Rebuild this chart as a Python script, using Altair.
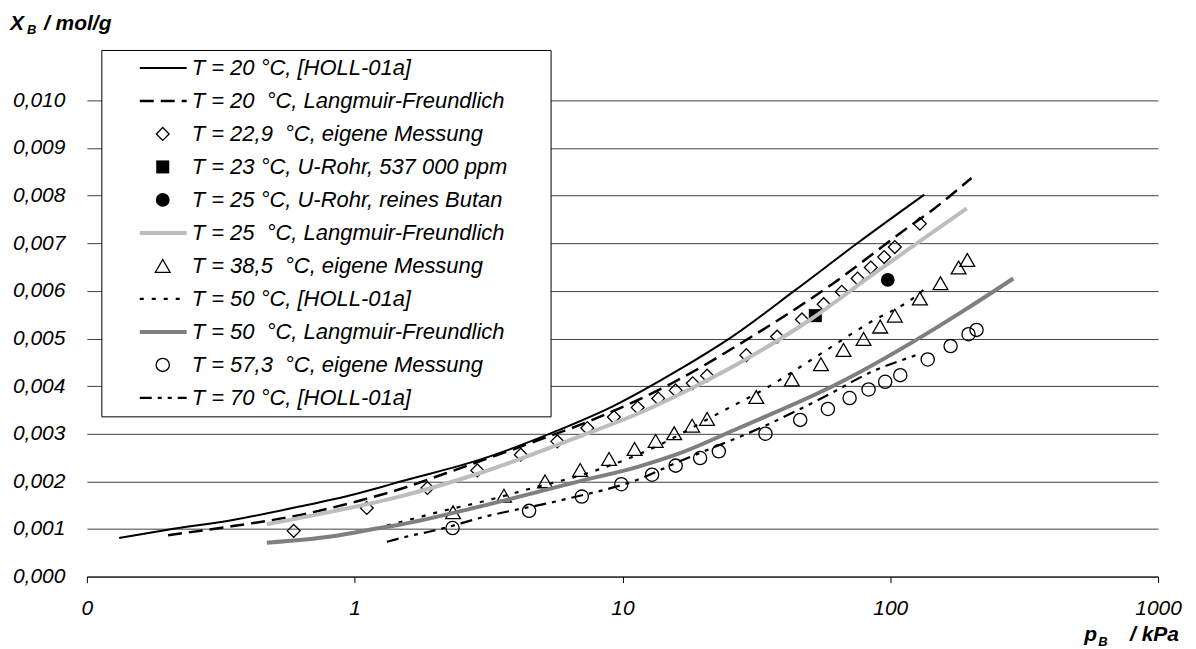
import altair as alt
import pandas as pd

# ---------------- data: p_B in kPa, X_B in mol/g ----------------
holl20_p = [0.132, 0.198, 0.351, 0.622, 1.0, 1.24, 1.47, 2.92, 5.8, 9.16, 16.2, 25.7, 44.3, 76.2, 134]
holl20_x = [0.00081, 0.00098, 0.00119, 0.00147, 0.00173, 0.00187, 0.00199, 0.00245, 0.00308, 0.00357,
            0.00434, 0.00504, 0.00602, 0.00702, 0.00802]

lf20_p = [0.201, 0.351, 0.622, 1.10, 1.39, 2.19, 4.36, 7.72, 15.3, 29.6, 58.9, 117, 143, 201]
lf20_x = [0.00087, 0.00106, 0.00129, 0.00163, 0.00179, 0.00217, 0.00277, 0.00329, 0.00406, 0.00500,
          0.00609, 0.00734, 0.00769, 0.00837]

m229_p = [0.592, 1.11, 1.87, 2.87, 4.17, 5.71, 7.39, 9.29, 11.4, 13.6, 15.8, 18.3, 20.7, 29.0, 37.8,
          46.8, 56.4, 65.9, 75.5, 84.6, 94.9, 104, 129]
m229_x = [0.00096, 0.00144, 0.00186, 0.00223, 0.00256, 0.00284, 0.00312, 0.00335, 0.00355, 0.00374,
          0.00391, 0.00406, 0.00422, 0.00465, 0.00504, 0.00540, 0.00572, 0.00598, 0.00626, 0.00649,
          0.00671, 0.00692, 0.00741]

u23_p = [52.5]
u23_x = [0.00548]
u25_p = [97.9]
u25_x = [0.00623]

lf25_p = [0.47, 0.828, 1.24, 1.47, 2.92, 6.88, 11.5, 16.2, 27.2, 51, 85.3, 151, 193]
lf25_x = [0.00110, 0.00137, 0.00158, 0.00168, 0.00217, 0.00294, 0.00343, 0.00382, 0.00448, 0.00542,
          0.00633, 0.00731, 0.00773]

m385_p = [2.33, 3.61, 5.14, 6.95, 8.91, 11.1, 13.3, 15.6, 18.2, 20.7, 31.6, 42.9, 55.1, 66.9, 79.5,
          91.7, 104, 129, 154, 180, 194]
m385_x = [0.00135, 0.00170, 0.00200, 0.00224, 0.00247, 0.00268, 0.00285, 0.00301, 0.00317, 0.00331,
          0.00377, 0.00414, 0.00446, 0.00476, 0.00499, 0.00525, 0.00548, 0.00584, 0.00616, 0.00649,
          0.00665]

holl50_p = [1.32, 1.80, 2.07, 3.18, 4.48, 7.39, 12.2, 23.6, 35.2, 51, 83, 124, 133]
holl50_x = [0.00107, 0.00127, 0.00136, 0.00161, 0.00184, 0.00217, 0.00263, 0.00347, 0.00399, 0.00456,
            0.00532, 0.00588, 0.00602]

lf50_p = [0.47, 0.828, 1.24, 1.47, 2.92, 6.88, 11.5, 16.2, 27.2, 64.1, 151, 190, 288]
lf50_x = [0.00071, 0.000845, 0.00102, 0.00109, 0.00147, 0.00200, 0.00231, 0.00258, 0.00312, 0.00406,
          0.00525, 0.00560, 0.00626]

m573_p = [2.32, 4.48, 7.05, 9.9, 12.9, 15.8, 19.5, 22.9, 34.2, 46.1, 58.5, 70.5, 83, 95.7, 109, 138,
          168, 196, 210]
m573_x = [0.00102, 0.00138, 0.00168, 0.00194, 0.00214, 0.00233, 0.00249, 0.00263, 0.00300, 0.00329,
          0.00352, 0.00375, 0.00393, 0.00409, 0.00423, 0.00456, 0.00484, 0.00509, 0.00518]

holl70_p = [1.32, 1.65, 1.86, 3.18, 5.96, 12.2, 15.3, 34.2, 57, 85.3, 125]
holl70_x = [0.00073, 0.00087, 0.00093, 0.00128, 0.00161, 0.00210, 0.00235, 0.00317, 0.00378, 0.00430,
            0.00465]

legend_labels = [
    "T = 20 °C, [HOLL-01a]",
    "T = 20 \u00a0°C, Langmuir-Freundlich",
    "T = 22,9 \u00a0°C, eigene Messung",
    "T = 23 °C, U-Rohr, 537 000 ppm",
    "T = 25 °C, U-Rohr, reines Butan",
    "T = 25 \u00a0°C, Langmuir-Freundlich",
    "T = 38,5 \u00a0°C, eigene Messung",
    "T = 50 °C, [HOLL-01a]",
    "T = 50 \u00a0°C, Langmuir-Freundlich",
    "T = 57,3 \u00a0°C, eigene Messung",
    "T = 70 °C, [HOLL-01a]",
]

x_ticks = [0.1, 1, 10, 100, 1000]
y_ticks = [0, 0.001, 0.002, 0.003, 0.004, 0.005, 0.006, 0.007, 0.008, 0.009, 0.010]

# ---------------- styling ----------------
FONT = "Liberation Sans"
TICK_FS = 21
LEG_FS = 22

x_axis = alt.Axis(
    values=x_ticks, title=None, grid=False,
    labelExpr="datum.value < 1 ? '0' : format(datum.value, 'd')",
    domain=True, domainColor="black", domainWidth=1,
    ticks=True, tickColor="black", tickSize=6, tickWidth=1,
    labelFont=FONT, labelFontSize=TICK_FS, labelFontStyle="italic", labelColor="black",
    labelBaseline="alphabetic", labelPadding=32, labelFlush=False, labelOverlap=False,
)
y_axis = alt.Axis(
    values=y_ticks, title=None, grid=True, gridColor="#404040", gridWidth=1,
    labelExpr="replace(format(datum.value, '.3f'), '.', ',')",
    domain=False, ticks=False,
    labelFont=FONT, labelFontSize=TICK_FS, labelFontStyle="italic", labelColor="black",
    labelPadding=22, labelOverlap=False,
)
x_scale = alt.Scale(type="log", domain=[0.1, 1000], nice=False)
y_scale = alt.Scale(domain=[0, 0.010], nice=False, zero=True)

x_enc = alt.X("p:Q", scale=x_scale, axis=x_axis)
y_enc = alt.Y("x:Q", scale=y_scale, axis=y_axis)


def frame(p, x):
    return pd.DataFrame({"p": p, "x": x})


def line(p, x, **kw):
    return alt.Chart(frame(p, x)).mark_line(interpolate="monotone", **kw).encode(x=x_enc, y=y_enc)


def pts(p, x, **kw):
    return alt.Chart(frame(p, x)).mark_point(opacity=1, **kw).encode(x=x_enc, y=y_enc)


SOLID = dict(color="black", strokeWidth=2)
DASH = dict(color="black", strokeWidth=2.5, strokeDash=[14, 7])
LIGHT = dict(color="#bdbdbd", strokeWidth=4)
DOT = dict(color="black", strokeWidth=2.2, strokeDash=[4, 8])
GREY = dict(color="#7f7f7f", strokeWidth=4)
DASHDOT = dict(color="black", strokeWidth=2.2, strokeDash=[12, 6, 4, 6, 4, 6])

DIAM = dict(shape="diamond", filled=False, color="black", strokeWidth=1.3, size=165)
SQ = dict(shape="square", filled=True, color="black", size=170)
FCIRC = dict(shape="circle", filled=True, color="black", size=190)
TRI = dict(shape="triangle-up", filled=False, color="black", strokeWidth=1.3, size=220)
CIRC = dict(shape="circle", filled=False, color="black", strokeWidth=1.3, size=175)

layers = [
    line(holl20_p, holl20_x, **SOLID),
    line(lf20_p, lf20_x, **DASH),
    pts(m229_p, m229_x, **DIAM),
    pts(u23_p, u23_x, **SQ),
    pts(u25_p, u25_x, **FCIRC),
    line(lf25_p, lf25_x, **LIGHT),
    pts(m385_p, m385_x, **TRI),
    line(holl50_p, holl50_x, **DOT),
    line(lf50_p, lf50_x, **GREY),
    pts(m573_p, m573_x, **CIRC),
    line(holl70_p, holl70_x, **DASHDOT),
]

# ---------------- legend box ----------------
one = pd.DataFrame({"k": [0]})
layers.append(
    alt.Chart(one).mark_rect(fill="white", stroke="black", strokeWidth=1).encode(
        x=alt.value(15), x2=alt.value(465), y=alt.value(-50), y2=alt.value(317)
    )
)

legend_styles = [("line", SOLID), ("line", DASH), ("sym", DIAM), ("sym", SQ), ("sym", FCIRC),
                 ("line", LIGHT), ("sym", TRI), ("line", DOT), ("line", GREY), ("sym", CIRC),
                 ("line", DASHDOT)]


def row_y(i):
    return -32.5 + 33.05 * i


for i, (label, (kind, st)) in enumerate(zip(legend_labels, legend_styles)):
    if kind == "line":
        layers.append(
            alt.Chart(one).mark_rule(**st).encode(
                x=alt.value(53), x2=alt.value(100), y=alt.value(row_y(i))
            )
        )
    else:
        layers.append(
            alt.Chart(one).mark_point(opacity=1, **st).encode(x=alt.value(76), y=alt.value(row_y(i)))
        )
    layers.append(
        alt.Chart(one).mark_text(
            align="left", baseline="middle", font=FONT, fontSize=LEG_FS, fontStyle="italic", color="black"
        ).encode(x=alt.value(105), y=alt.value(row_y(i)), text=alt.value(label))
    )

# ---------------- axis titles (with subscripts) ----------------
def txt(s, x, y, fs, align="left"):
    return alt.Chart(one).mark_text(
        align=align, baseline="alphabetic", font=FONT, fontSize=fs, fontStyle="italic",
        fontWeight="bold", color="black"
    ).encode(x=alt.value(x), y=alt.value(y), text=alt.value(s))


layers += [
    txt("X", -77, -71, 21),
    txt("B", -60, -66, 13),
    txt("/ mol/g", -43, -71, 21),
    txt("p", 999, 542, 21),
    txt("B", 1013, 547, 13),
    txt("/ kPa", 1094, 542, 21, align="right"),
]

chart = alt.layer(*layers).properties(
    width=1073,
    height=477,
    autosize=alt.AutoSizeParams(type="none"),
    padding={"left": 79, "top": 92, "right": 30, "bottom": 72},
    background="white",
).configure_view(stroke=None)

chart.save("out.html", embed_options={"renderer": "svg", "actions": False})
